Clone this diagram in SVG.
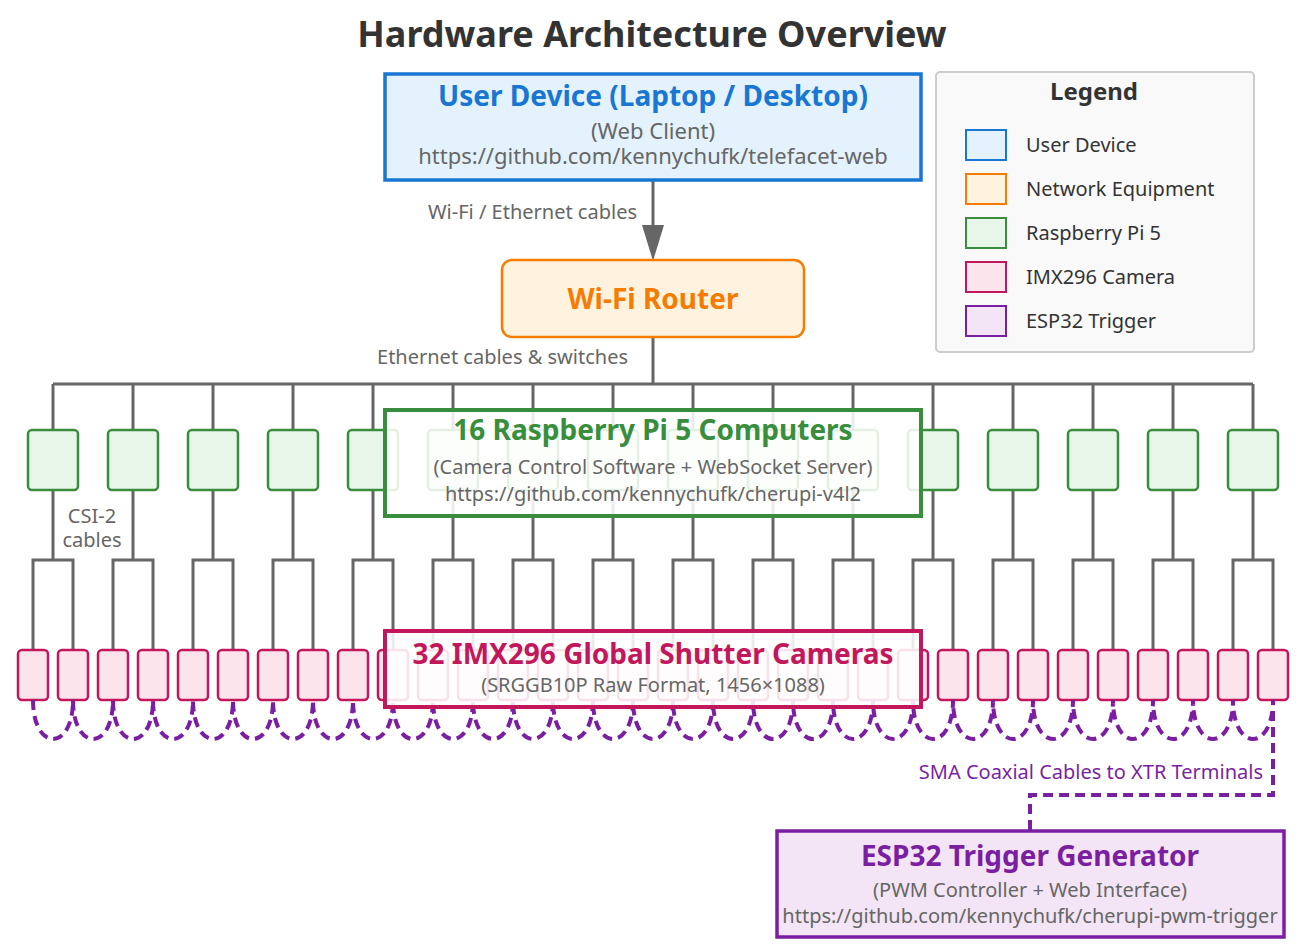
<svg xmlns="http://www.w3.org/2000/svg" width="1304" height="952" viewBox="0 0 1304 952">
<style>
text{font-family:"Noto Sans","Open Sans","DejaVu Sans",sans-serif}
.ttl{font-size:36px;font-weight:bold;fill:#333;text-anchor:middle}
.h{font-size:28px;font-weight:bold;text-anchor:middle}
.s{font-size:20px;fill:#666;text-anchor:middle}
.lbl{font-size:20px;fill:#666}
.ln{stroke:#666;stroke-width:3;fill:none}
.pi{fill:#e8f5e9;stroke:#388e3c;stroke-width:2.5}
.cam{fill:#fce4ec;stroke:#c2185b;stroke-width:2.5}
.dash{stroke:#7b1fa2;stroke-width:4;fill:none;stroke-dasharray:10 6}
.lg{font-size:20px;fill:#333}
</style>
<defs>
<g id="pibox"><rect x="-25" y="0" width="50" height="60" rx="4" class="pi"/></g>
<g id="cambox"><rect x="-15" y="0" width="30" height="50" rx="4" class="cam"/></g>
<g id="fork"><path class="ln" d="M0,384 V430 M0,490 V560 M-20,650 V560 H20 V650"/></g>
</defs>
<text class="ttl" x="652" y="47">Hardware Architecture Overview</text>
<g id="connectors">
<line class="ln" x1="653" y1="180" x2="653" y2="226"/>
<path d="M642,225 L664,225 L653,261 Z" fill="#666"/>
<text class="lbl" x="637" y="219" text-anchor="end">Wi-Fi / Ethernet cables</text>
<path class="ln" d="M653,337 V384 M53,384 H1253"/>
<text class="lbl" x="628" y="364" text-anchor="end">Ethernet cables &amp; switches</text>
<use href="#fork" x="53"/><use href="#fork" x="133"/><use href="#fork" x="213"/><use href="#fork" x="293"/>
<use href="#fork" x="373"/><use href="#fork" x="453"/><use href="#fork" x="533"/><use href="#fork" x="613"/>
<use href="#fork" x="693"/><use href="#fork" x="773"/><use href="#fork" x="853"/><use href="#fork" x="933"/>
<use href="#fork" x="1013"/><use href="#fork" x="1093"/><use href="#fork" x="1173"/><use href="#fork" x="1253"/>
<text class="lbl" x="92" y="523" text-anchor="middle">CSI-2</text>
<text class="lbl" x="92" y="547" text-anchor="middle">cables</text>
</g>
<g id="pis">
<use href="#pibox" x="53" y="430"/><use href="#pibox" x="133" y="430"/><use href="#pibox" x="213" y="430"/><use href="#pibox" x="293" y="430"/>
<use href="#pibox" x="373" y="430"/><use href="#pibox" x="453" y="430"/><use href="#pibox" x="533" y="430"/><use href="#pibox" x="613" y="430"/>
<use href="#pibox" x="693" y="430"/><use href="#pibox" x="773" y="430"/><use href="#pibox" x="853" y="430"/><use href="#pibox" x="933" y="430"/>
<use href="#pibox" x="1013" y="430"/><use href="#pibox" x="1093" y="430"/><use href="#pibox" x="1173" y="430"/><use href="#pibox" x="1253" y="430"/>
</g>
<g id="cams">
<use href="#cambox" x="33" y="650"/><use href="#cambox" x="73" y="650"/><use href="#cambox" x="113" y="650"/><use href="#cambox" x="153" y="650"/>
<use href="#cambox" x="193" y="650"/><use href="#cambox" x="233" y="650"/><use href="#cambox" x="273" y="650"/><use href="#cambox" x="313" y="650"/>
<use href="#cambox" x="353" y="650"/><use href="#cambox" x="393" y="650"/><use href="#cambox" x="433" y="650"/><use href="#cambox" x="473" y="650"/>
<use href="#cambox" x="513" y="650"/><use href="#cambox" x="553" y="650"/><use href="#cambox" x="593" y="650"/><use href="#cambox" x="633" y="650"/>
<use href="#cambox" x="673" y="650"/><use href="#cambox" x="713" y="650"/><use href="#cambox" x="753" y="650"/><use href="#cambox" x="793" y="650"/>
<use href="#cambox" x="833" y="650"/><use href="#cambox" x="873" y="650"/><use href="#cambox" x="913" y="650"/><use href="#cambox" x="953" y="650"/>
<use href="#cambox" x="993" y="650"/><use href="#cambox" x="1033" y="650"/><use href="#cambox" x="1073" y="650"/><use href="#cambox" x="1113" y="650"/>
<use href="#cambox" x="1153" y="650"/><use href="#cambox" x="1193" y="650"/><use href="#cambox" x="1233" y="650"/><use href="#cambox" x="1273" y="650"/>
</g>
<g id="trigger-wiring">
<path class="dash" d="M33,700 C33,752 73,752 73,700 C73,752 113,752 113,700 C113,752 153,752 153,700 C153,752 193,752 193,700 C193,752 233,752 233,700 C233,752 273,752 273,700 C273,752 313,752 313,700 C313,752 353,752 353,700 C353,752 393,752 393,700 C393,752 433,752 433,700 C433,752 473,752 473,700 C473,752 513,752 513,700 C513,752 553,752 553,700 C553,752 593,752 593,700 C593,752 633,752 633,700 C633,752 673,752 673,700 C673,752 713,752 713,700 C713,752 753,752 753,700 C753,752 793,752 793,700 C793,752 833,752 833,700 C833,752 873,752 873,700 C873,752 913,752 913,700 C913,752 953,752 953,700 C953,752 993,752 993,700 C993,752 1033,752 1033,700 C1033,752 1073,752 1073,700 C1073,752 1113,752 1113,700 C1113,752 1153,752 1153,700 C1153,752 1193,752 1193,700 C1193,752 1233,752 1233,700 C1233,752 1273,752 1273,700 V795 H1030 V831"/>
<text x="1263" y="779" text-anchor="end" style="font-size:20px;fill:#7b1fa2">SMA Coaxial Cables to XTR Terminals</text>
</g>
<g id="user-device">
<rect x="385" y="74" width="536" height="106" fill="#e3f2fd" stroke="#1976d2" stroke-width="3.5"/>
<text class="h" x="653" y="106" fill="#1976d2">User Device (Laptop / Desktop)</text>
<text class="s" x="653" y="139" style="font-size:22px">(Web Client)</text>
<text class="s" x="653" y="164" style="font-size:22px">https://github.com/kennychufk/telefacet-web</text>
</g>
<g id="router">
<rect x="502" y="260" width="302" height="77" rx="10" fill="#fff3e0" stroke="#f57c00" stroke-width="2.5"/>
<text class="h" x="653" y="309" fill="#f57c00">Wi-Fi Router</text>
</g>
<g id="pi-group">
<rect x="385" y="410" width="536" height="106" fill="#fff" fill-opacity="0.87" stroke="#388e3c" stroke-width="4"/>
<text class="h" x="653" y="440" fill="#388e3c">16 Raspberry Pi 5 Computers</text>
<text class="s" x="653" y="474">(Camera Control Software + WebSocket Server)</text>
<text class="s" x="653" y="501">https://github.com/kennychufk/cherupi-v4l2</text>
</g>
<g id="camera-group">
<rect x="385" y="631" width="536" height="76" fill="#fff" fill-opacity="0.87" stroke="#c2185b" stroke-width="4"/>
<text class="h" x="653" y="664" fill="#c2185b">32 IMX296 Global Shutter Cameras</text>
<text class="s" x="653" y="692">(SRGGB10P Raw Format, 1456×1088)</text>
</g>
<g id="esp32">
<rect x="777" y="831" width="507" height="106" fill="#f3e5f5" stroke="#7b1fa2" stroke-width="3.5"/>
<text class="h" x="1030" y="866" fill="#7b1fa2">ESP32 Trigger Generator</text>
<text class="s" x="1030" y="897">(PWM Controller + Web Interface)</text>
<text class="s" x="1030" y="923">https://github.com/kennychufk/cherupi-pwm-trigger</text>
</g>
<g id="legend">
<rect x="936" y="72" width="318" height="280" rx="4" fill="#f9f9f9" stroke="#ccc" stroke-width="2"/>
<text x="1094" y="100" text-anchor="middle" style="font-size:24px;font-weight:bold;fill:#333">Legend</text>
<rect x="966" y="130" width="40" height="30" fill="#e3f2fd" stroke="#1976d2" stroke-width="2"/>
<text class="lg" x="1026" y="152">User Device</text>
<rect x="966" y="174" width="40" height="30" fill="#fff3e0" stroke="#f57c00" stroke-width="2"/>
<text class="lg" x="1026" y="196">Network Equipment</text>
<rect x="966" y="218" width="40" height="30" fill="#e8f5e9" stroke="#388e3c" stroke-width="2"/>
<text class="lg" x="1026" y="240">Raspberry Pi 5</text>
<rect x="966" y="262" width="40" height="30" fill="#fce4ec" stroke="#c2185b" stroke-width="2"/>
<text class="lg" x="1026" y="284">IMX296 Camera</text>
<rect x="966" y="306" width="40" height="30" fill="#f3e5f5" stroke="#7b1fa2" stroke-width="2"/>
<text class="lg" x="1026" y="328">ESP32 Trigger</text>
</g>
</svg>
